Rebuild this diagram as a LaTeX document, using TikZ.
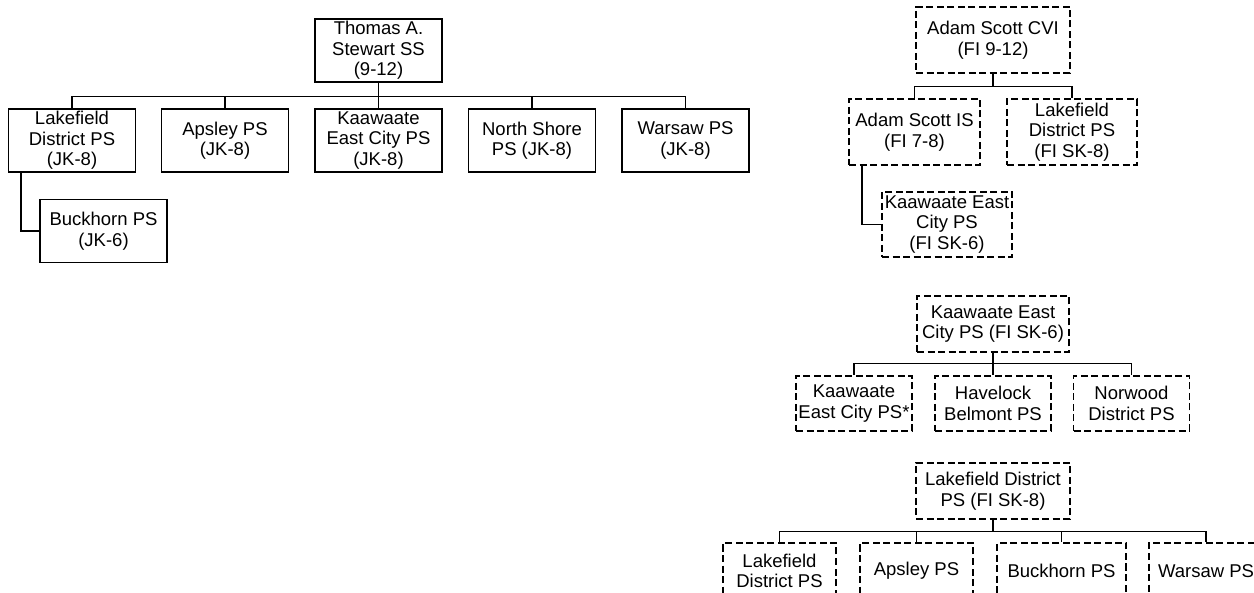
\documentclass[tikz,border=0pt]{standalone}
\usepackage{fontspec}
\setmainfont{Liberation Sans}
\tikzset{
  school/.style={draw,line width=1.3pt,align=center,inner sep=0pt,
    font=\fontsize{18.5}{20.5}\selectfont,minimum width=127pt,minimum height=63pt},
  fi/.style={school,dashed,dash pattern=on 7pt off 3.5pt},
  link/.style={line width=1.3pt}
}
\begin{document}
\begin{tikzpicture}[x=1pt,y=-1pt]
  \clip (0,0) rectangle (1254,593);
  % English program
  \node[school] (tas) at (378.5,50.5) {Thomas A.\\Stewart SS\\(9-12)};
  \node[school] (lake) at (72,140.5) {Lakefield\\District PS\\(JK-8)};
  \node[school] (aps) at (225,140.5) {Apsley PS\\(JK-8)};
  \node[school] (kec) at (378.5,140.5) {Kaawaate\\East City PS\\(JK-8)};
  \node[school] (nsh) at (532,140.5) {North Shore\\PS (JK-8)};
  \node[school] (war) at (685.5,140.5) {Warsaw PS\\(JK-8)};
  \node[school] (buck) at (103.5,231) {Buckhorn PS\\(JK-6)};
  \foreach \c in {lake,aps,kec,nsh,war}
    \draw[link] (tas.south) -- ++(0,14) -| (\c.north);
  \draw[link] ([xshift=-51pt]lake.south) |- (buck.west);
  % French immersion
  \node[fi,minimum width=154pt,minimum height=66pt] (asc) at (993,40) {Adam Scott CVI\\(FI 9-12)};
  \node[fi,minimum width=131pt,minimum height=66pt] (asis) at (914.5,132) {Adam Scott IS\\(FI 7-8)};
  \node[fi,minimum width=130pt,minimum height=66pt] (lkfi) at (1072,132) {Lakefield\\District PS\\(FI SK-8)};
  \node[fi,minimum width=130pt,minimum height=65pt] (kefi) at (947,224.5) {Kaawaate East\\City PS\\(FI SK-6)};
  \foreach \c in {asis,lkfi}
    \draw[link] (asc.south) -- ++(0,13) -| (\c.north);
  \draw[link] ([xshift=-52.5pt]asis.south) |- (kefi.west);
  % Kaawaate feeders
  \node[fi,minimum width=152pt,minimum height=56pt] (kp) at (993,324) {Kaawaate East\\City PS (FI SK-6)};
  \node[fi,minimum width=116pt,minimum height=55pt] (k1) at (854,403.5) {Kaawaate\\East City PS*};
  \node[fi,minimum width=116pt,minimum height=55pt] (k2) at (993,403.5) {Havelock\\Belmont PS};
  \node[fi,minimum width=116pt,minimum height=55pt] (k3) at (1131.5,403.5) {Norwood\\District PS};
  \foreach \c in {k1,k2,k3}
    \draw[link] (kp.south) -- ++(0,11) -| (\c.north);
  % Lakefield feeders
  \node[fi,minimum width=154pt,minimum height=56pt] (lp) at (993,491) {Lakefield District\\PS (FI SK-8)};
  \node[fi,minimum width=113pt,minimum height=56pt] (l1) at (779.5,571) {Lakefield\\District PS};
  \node[fi,minimum width=113pt,minimum height=56pt] (l2) at (916.5,571) {Apsley PS};
  \node[fi,minimum width=129pt,minimum height=56pt] (l3) at (1061.5,571) {Buckhorn PS};
  \node[fi,minimum width=114pt,minimum height=56pt] (l4) at (1206,571) {Warsaw PS};
  \foreach \c in {l1,l2,l3,l4}
    \draw[link] (lp.south) -- ++(0,12) -| (\c.north);
\end{tikzpicture}
\end{document}
